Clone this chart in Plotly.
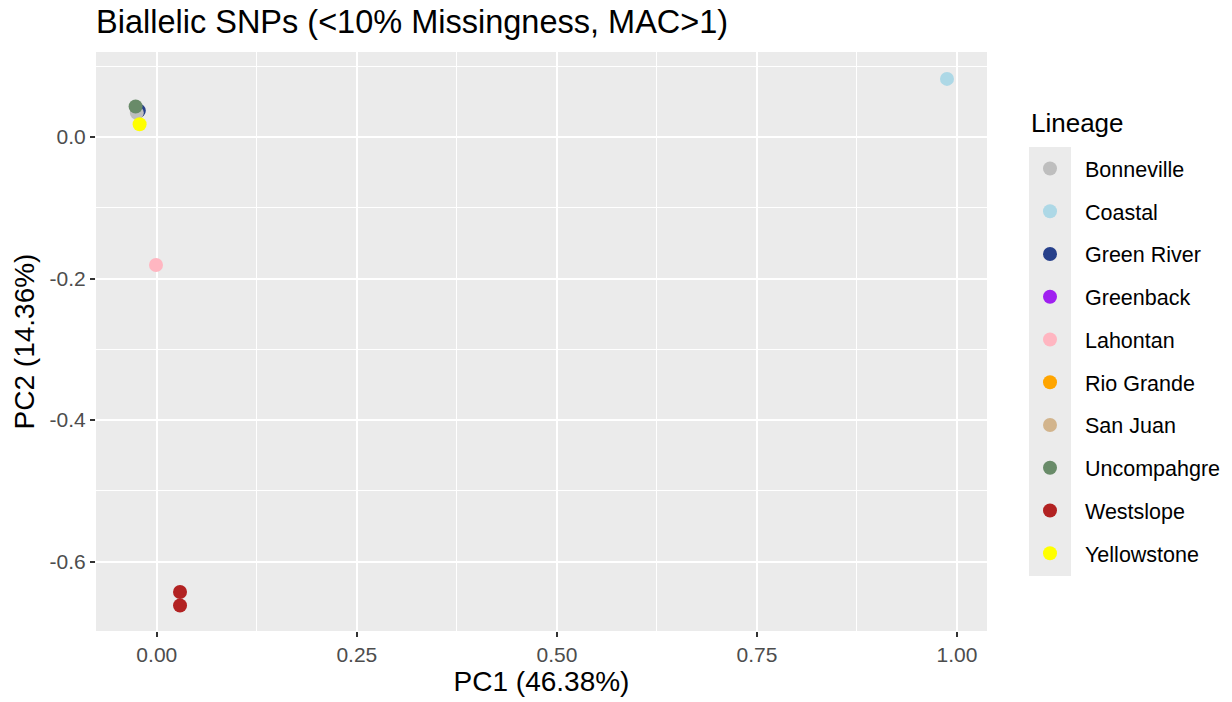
import plotly.graph_objects as go

# PCA scores per lineage (PC1, PC2)
lineages = ["Bonneville", "Coastal", "Green River", "Greenback", "Lahontan",
            "Rio Grande", "San Juan", "Uncompahgre", "Westslope", "Yellowstone"]
pc1 = {
    "Bonneville": [-0.025],
    "Coastal": [0.9875],
    "Green River": [-0.0225],
    "Greenback": [-0.024],
    "Lahontan": [-0.001],
    "Rio Grande": [-0.024],
    "San Juan": [-0.024],
    "Uncompahgre": [-0.0265],
    "Westslope": [0.029, 0.029],
    "Yellowstone": [-0.0215],
}
pc2 = {
    "Bonneville": [0.034],
    "Coastal": [0.082],
    "Green River": [0.037],
    "Greenback": [0.036],
    "Lahontan": [-0.181],
    "Rio Grande": [0.036],
    "San Juan": [0.036],
    "Uncompahgre": [0.043],
    "Westslope": [-0.643, -0.662],
    "Yellowstone": [0.018],
}
colors = {
    "Bonneville": "#BEBEBE",
    "Coastal": "#ADD8E6",
    "Green River": "#27408B",
    "Greenback": "#A020F0",
    "Lahontan": "#FFB6C1",
    "Rio Grande": "#FFA500",
    "San Juan": "#D2B48C",
    "Uncompahgre": "#698B69",
    "Westslope": "#B22222",
    "Yellowstone": "#FFFF00",
}
# order in which points are drawn (later ones on top)
draw_order = ["Greenback", "Rio Grande", "San Juan", "Green River", "Bonneville",
              "Uncompahgre", "Yellowstone", "Lahontan", "Coastal", "Westslope"]

x_ticks = [0.0, 0.25, 0.5, 0.75, 1.0]
x_labels = ["0.00", "0.25", "0.50", "0.75", "1.00"]
y_ticks = [0.0, -0.2, -0.4, -0.6]
y_labels = ["0.0", "-0.2", "-0.4", "-0.6"]

fig = go.Figure()
for name in draw_order:
    fig.add_trace(go.Scatter(
        x=pc1[name], y=pc2[name], mode="markers", name=name,
        legendgroup=name, legendrank=lineages.index(name) + 1,
        marker=dict(size=14, color=colors[name], line=dict(width=0)),
    ))

axis_common = dict(
    showgrid=True, gridcolor="white", gridwidth=2,
    zeroline=False, showline=False,
    ticks="outside", ticklen=5, tickwidth=2, tickcolor="#333333",
    tickfont=dict(size=21, color="#4D4D4D"),
)

fig.update_layout(
    width=1232, height=702,
    margin=dict(l=96, r=245, t=52, b=71),
    paper_bgcolor="white", plot_bgcolor="#EBEBEB",
    font=dict(family="Liberation Sans, Arial, sans-serif", color="black"),
    title=dict(text="Biallelic SNPs (<10% Missingness, MAC>1)",
               font=dict(size=32.5, color="black"),
               xref="paper", x=0, xanchor="left",
               yref="container", y=1 - 22 / 702, yanchor="middle"),
    xaxis=dict(
        range=[-0.076, 1.0375], tickvals=x_ticks, ticktext=x_labels,
        minor=dict(showgrid=True, gridcolor="white", gridwidth=1, dtick=0.125, tick0=-0.125, ticks=""),
        title=dict(text="PC1 (46.38%)", font=dict(size=28), standoff=4),
        **axis_common,
    ),
    yaxis=dict(
        range=[-0.698, 0.120], tickvals=y_ticks, ticktext=y_labels,
        minor=dict(showgrid=True, gridcolor="white", gridwidth=1, dtick=0.2, tick0=0.1, ticks=""),
        title=dict(text="PC2 (14.36%)", font=dict(size=28), standoff=6),
        **axis_common,
    ),
    legend=dict(
        font=dict(size=21.5), bgcolor="rgba(0,0,0,0)",
        x=1015 / 1232, xref="container", xanchor="left",
        y=1 - 148 / 702, yref="container", yanchor="top",
        tracegroupgap=11.8, itemsizing="trace", itemwidth=60,
        maxheight=690,
    ),
    annotations=[dict(text="Lineage", xref="paper", yref="paper",
                      x=(1029 - 96) / 891, y=(631 - 123) / 579,
                      xanchor="left", yanchor="middle", showarrow=False,
                      font=dict(size=26, color="black"))],
    shapes=[dict(type="rect", xref="paper", yref="paper",
                 x0=(1029 - 96) / 891, x1=(1071 - 96) / 891,
                 y0=(631 - 576) / 579, y1=(631 - 147) / 579,
                 fillcolor="#EBEBEB", line=dict(width=0), layer="below")],
)

fig.write_html("out.html")
